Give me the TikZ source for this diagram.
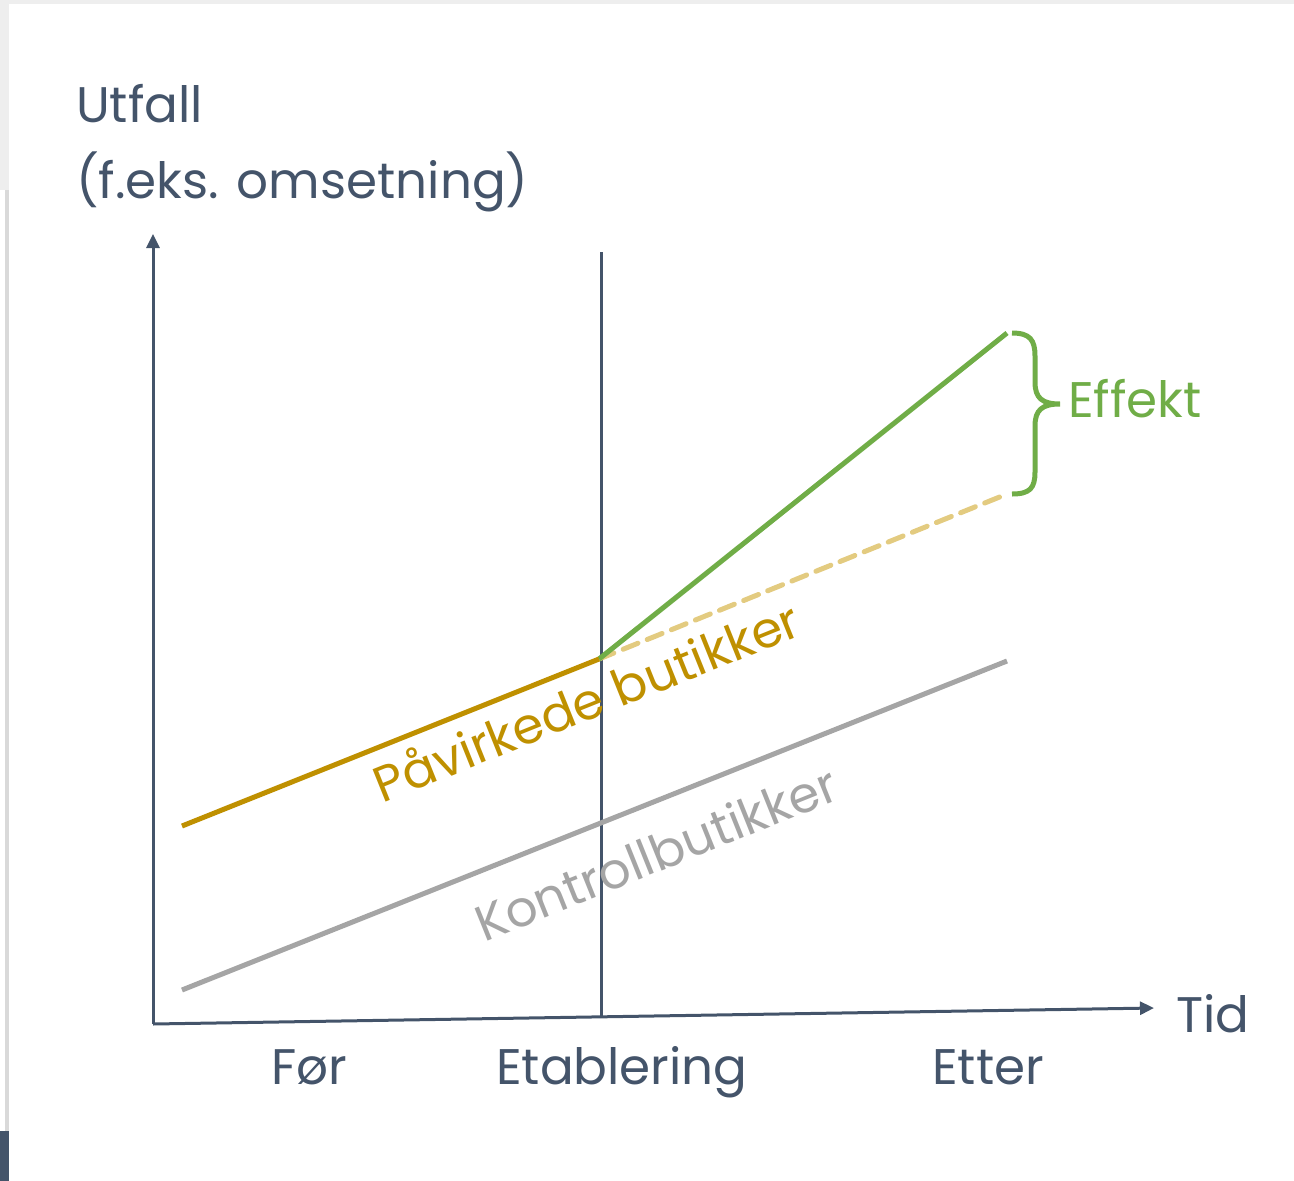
\documentclass[tikz,border=0pt]{standalone}
\usepackage{fontspec}
\setmainfont{Poppins}
\usetikzlibrary{arrows.meta}
\definecolor{axisc}{HTML}{44546A}
\definecolor{goldc}{HTML}{BF9000}
\definecolor{greenc}{HTML}{70AD47}
\definecolor{grayc}{HTML}{A5A5A5}
\definecolor{dashc}{HTML}{E3CB80}
\definecolor{framec}{HTML}{EEEEEE}
\tikzset{
  axisline/.style={draw=axisc, line width=3pt},
  dataline/.style={line width=5pt},
  lbl/.style={font=\fontsize{50}{56}\selectfont, inner sep=0pt, anchor=base west, text=axisc},
}
\begin{document}
\begin{tikzpicture}[x=1pt,y=-1pt]
\useasboundingbox (0,0) rectangle (1294,1181);
% frame
\fill[framec] (0,0) rectangle (1294,4);
\fill[framec] (0,0) rectangle (9,190);
\fill[black!15] (5,190) rectangle (9,1131);
\fill[axisc] (0,1131) rectangle (9,1181);
% coordinates
\coordinate (o) at (153,1024);
\coordinate (ytip) at (153,234);
\coordinate (xtip) at (1154,1008);
\coordinate (vtop) at (601,252);
\coordinate (vbot) at (601,1018);
\coordinate (a0) at (182,826);
\coordinate (a1) at (599,659);
\coordinate (g1) at (1007,333);
\coordinate (d1) at (1007,494);
\coordinate (k0) at (182,990);
\coordinate (k1) at (1007,661);
% axes
\draw[axisline, -{Triangle[length=14pt,width=13pt]}] (o) -- (ytip);
\draw[axisline, -{Triangle[length=14pt,width=13pt]}] (o) -- (xtip);
\draw[axisline] (vbot) -- (vtop);
% data lines
\draw[dataline, grayc] (k0) -- (k1);
\draw[dataline, dashc, dash pattern=on 16pt off 10pt, line cap=round] (a1) -- (d1);
\draw[dataline, greenc] (a1) -- (g1);
\draw[dataline, goldc] (a0) -- (a1);
% brace
\draw[greenc, line width=5pt] (1012,333) .. controls (1030,333) and (1035,340) .. (1035,356)
  -- (1035,382) .. controls (1035,398) and (1042,404) .. (1060,404)
  .. controls (1042,404) and (1035,410) .. (1035,426)
  -- (1035,472) .. controls (1035,488) and (1030,494) .. (1012,494);
% labels
\node[lbl] (utfall) at (76,122) {Utfall};
\node[lbl] (feks) at (76,198) {(f.eks. omsetning)};
\node[lbl] (tid) at (1176,1032) {Tid};
\node[lbl] (for) at (271,1084) {Før};
\node[lbl] (etab) at (496,1084) {Etablering};
\node[lbl] (etter) at (932,1084) {Etter};
\node[lbl, text=greenc] (effekt) at (1068,417) {Effekt};
\node[font=\fontsize{50}{56}\selectfont, inner sep=0pt, text=goldc, rotate=21.9] (pav) at (586,700) {Påvirkede butikker};
\node[font=\fontsize{50}{56}\selectfont, inner sep=0pt, text=grayc, rotate=21.9] (kon) at (656,853) {Kontrollbutikker};
\end{tikzpicture}
\end{document}
